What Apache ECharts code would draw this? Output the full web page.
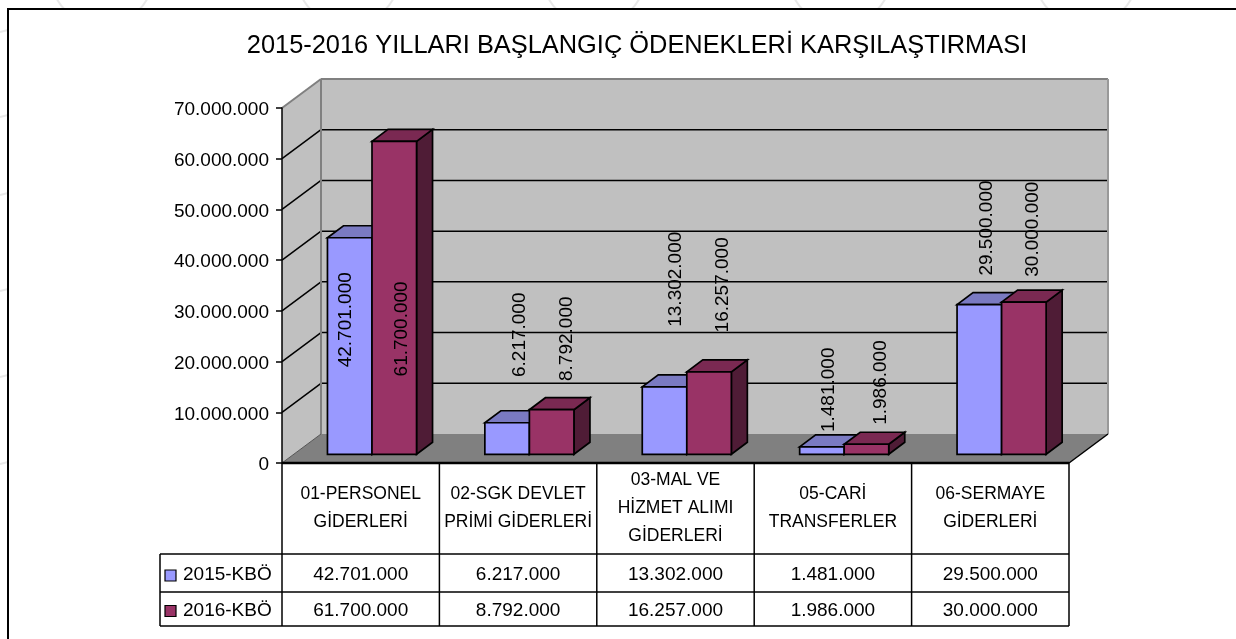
<!DOCTYPE html>
<html lang="tr">
<head>
    <meta charset="UTF-8">
    <title>2015-2016 Yıllari Başlangıç Ödenekleri</title>
    <style>
        *{
            padding:0;
            margin:0;
        }
    </style>
    <script src="https://cdn.jsdelivr.net/npm/echarts@6/dist/echarts.min.js"></script>
</head>
<body>
    <div id="main" style="width: 1236px;height: 639px;"></div>
    <script>
        var categories = ['01-PERSONEL\nGİDERLERİ', '02-SGK DEVLET\nPRİMİ GİDERLERİ', '03-MAL VE\nHİZMET ALIMI\nGİDERLERİ', '05-CARİ\nTRANSFERLER', '06-SERMAYE\nGİDERLERİ'];
        var seriesNames = ['2015-KBÖ', '2016-KBÖ'];
        var values2015 = [42701000, 6217000, 13302000, 1481000, 29500000];
        var values2016 = [61700000, 8792000, 16257000, 1986000, 30000000];
        var gridTicks = [10000000, 20000000, 30000000, 40000000, 50000000, 60000000, 70000000];

        // elle yerlestirilmis etiketler: cubuk tepesine gore kayma (px)
        var nudge2015 = [[-3.5, 82], [12.5, -88], [11, -107.6], [7.3, -57], [7.9, -76.7]];
        var nudge2016 = [[7.5, 187.5], [15.5, -71], [13.2, -87], [14.1, -61.7], [8.4, -73]];

        var FONT = '"Liberation Sans", Arial, sans-serif';
        var COLORS = [
            {front: '#9999ff', top: '#7a7ac2', side: '#5c5c99'},
            {front: '#993366', top: '#7a2952', side: '#4f1c36'}
        ];
        var WALL = [39, -29];       // zemin derinligi
        var BAR_SHIFT = [11.3, -8.7];
        var BAR_DEPTH = [16, -12];
        var TABLE_ROWS = [554, 592, 626];
        var TABLE_TEXT_Y = [575, 610.5];
        var TABLE_LEFT = 160;

        function fmt(v) {
            return String(v).replace(/\B(?=(\d{3})+$)/g, '.');
        }

        function line(x1, y1, x2, y2, color, width) {
            return {
                type: 'line',
                shape: {x1: x1, y1: y1, x2: x2, y2: y2},
                style: {stroke: color, lineWidth: width}
            };
        }

        function poly(points, fill, stroke, width) {
            return {
                type: 'polygon',
                shape: {points: points},
                style: {fill: fill, stroke: stroke, lineWidth: width || 0}
            };
        }

        function label(text, x, y, size, align, rotate) {
            return {
                type: 'text',
                x: x,
                y: y,
                rotation: rotate ? Math.PI / 2 : 0,
                style: {
                    text: text, x: 0, y: 0, fill: '#000', font: size + 'px ' + FONT,
                    textAlign: align || 'center', textVerticalAlign: 'middle'
                }
            };
        }

        function renderWalls(params, api) {
            var c = params.coordSys;
            var l = c.x, r = c.x + c.width, t = c.y, b = c.y + c.height;
            var dx = WALL[0], dy = WALL[1];
            var kids = [
                poly([[l, b], [l + dx, b + dy], [l + dx, t + dy], [l, t]], '#c0c0c0'),
                poly([[l + dx, b + dy], [r + dx, b + dy], [r + dx, t + dy], [l + dx, t + dy]], '#c0c0c0'),
                poly([[l, b], [r, b], [r + dx, b + dy], [l + dx, b + dy]], '#808080')
            ];
            gridTicks.forEach(function (v) {
                var y = api.coord([0, v])[1];
                if (v < 70000000) {
                    kids.push(line(l + dx, y + dy, r + dx, y + dy, '#000', 1.5));
                    kids.push(line(l, y, l + dx, y + dy, '#000', 1.5));
                }
            });
            kids.push(line(l, t, l + dx, t + dy, '#808080', 2));
            kids.push(line(l + dx, t + dy, r + dx, t + dy, '#808080', 2));
            kids.push(line(r + dx, t + dy, r + dx, b + dy, '#999999', 2));
            kids.push(line(l + dx, t + dy, l + dx, b + dy, '#808080', 2));
            kids.push(line(l, b, l + dx, b + dy, '#555555', 1));
            kids.push(line(r, b, r + dx, b + dy, '#000', 1.5));
            return {type: 'group', children: kids};
        }

        function barRenderer(which) {
            return function (params, api) {
                var idx = api.value(0);
                var w = api.size([1, 0])[0] * 0.283;
                var base = api.coord([idx, 0]);
                var top = api.coord([idx, api.value(1)]);
                var x1 = base[0] + BAR_SHIFT[0] + (which === 0 ? -w : 0);
                var x2 = x1 + w;
                var y1 = top[1] + BAR_SHIFT[1];
                var y2 = base[1] + BAR_SHIFT[1];
                var dx = BAR_DEPTH[0], dy = BAR_DEPTH[1];
                var col = COLORS[which];
                return {
                    type: 'group',
                    children: [
                        poly([[x2, y2], [x2 + dx, y2 + dy], [x2 + dx, y1 + dy], [x2, y1]], col.side, '#000', 1.7),
                        poly([[x1, y1], [x2, y1], [x2 + dx, y1 + dy], [x1 + dx, y1 + dy]], col.top, '#000', 1.7),
                        poly([[x1, y1], [x2, y1], [x2, y2], [x1, y2]], col.front, '#000', 1.7)
                    ]
                };
            };
        }

        function labelRenderer(which, nudge) {
            return function (params, api) {
                var idx = api.value(0);
                var w = api.size([1, 0])[0] * 0.283;
                var base = api.coord([idx, 0]);
                var top = api.coord([idx, api.value(1)]);
                var cx = base[0] + BAR_SHIFT[0] + (which === 0 ? -w / 2 : w / 2);
                return label(fmt(api.value(1)), cx + nudge[idx][0], top[1] + BAR_SHIFT[1] + nudge[idx][1], 19, 'center', true);
            };
        }

        function renderTable(params, api) {
            var c = params.coordSys;
            var l = c.x, r = c.x + c.width, b = c.y + c.height;
            var step = c.width / categories.length;
            var kids = [line(l, b, r, b, '#000', 2.5)];
            for (var i = 0; i <= categories.length; i++) {
                kids.push(line(l + i * step, b, l + i * step, TABLE_ROWS[2], '#000', 1.5));
            }
            kids.push(line(TABLE_LEFT, TABLE_ROWS[0], TABLE_LEFT, TABLE_ROWS[2], '#000', 1.5));
            TABLE_ROWS.forEach(function (y) {
                kids.push(line(TABLE_LEFT, y, r, y, '#000', 1.5));
            });
            [values2015, values2016].forEach(function (vals, row) {
                var y = TABLE_TEXT_Y[row];
                kids.push({
                    type: 'rect',
                    shape: {x: 165, y: y - 5, width: 11, height: 11},
                    style: {fill: COLORS[row].front, stroke: '#000', lineWidth: 1.2}
                });
                kids.push(label(seriesNames[row], 183, y, 19, 'left'));
                vals.forEach(function (v, i) {
                    kids.push(label(fmt(v), api.coord([i, 0])[0], y, 19));
                });
            });
            return {type: 'group', children: kids};
        }

        function asPairs(vals) {
            return vals.map(function (v, i) {
                return [i, v];
            });
        }

        var backdrop = [];
        [102, 348, 594, 840, 1086].forEach(function (x) {
            backdrop.push({
                type: 'circle', z: -3, silent: true,
                shape: {cx: x, cy: -25, r: 51},
                style: {fill: 'none', stroke: '#e8e8e8', lineWidth: 2}
            });
        });
        [30, 115, 193, 289, 375, 462].forEach(function (y) {
            backdrop.push({
                type: 'line', z: -3, silent: true,
                shape: {x1: 0, y1: y + 2, x2: 8, y2: y},
                style: {stroke: '#e8e8e8', lineWidth: 2}
            });
        });
        backdrop.push({
            type: 'rect', z: -2, silent: true,
            shape: {x: 8, y: 9, width: 1240, height: 640},
            style: {fill: '#fff', stroke: '#000', lineWidth: 2}
        });

        var myChart = echarts.init(document.getElementById('main'));
        myChart.setOption({
            animation: false,
            backgroundColor: '#fff',
            title: {
                text: '2015-2016 YILLARI BAŞLANGIÇ ÖDENEKLERİ KARŞILAŞTIRMASI',
                left: 632,
                top: 28,
                textAlign: 'center',
                textStyle: {color: '#000', fontFamily: FONT, fontWeight: 'normal', fontSize: 25.4}
            },
            graphic: backdrop,
            grid: {left: 282, top: 108, width: 787, height: 355},
            xAxis: {
                type: 'category',
                data: categories,
                axisLine: {show: false},
                axisTick: {show: false},
                axisLabel: {
                    interval: 0, margin: 45, color: '#000', fontFamily: FONT, fontSize: 17.5,
                    lineHeight: 28, verticalAlign: 'middle'
                }
            },
            yAxis: {
                type: 'value',
                min: 0,
                max: 70000000,
                interval: 10000000,
                z: 4,
                splitLine: {show: false},
                axisLine: {show: true, lineStyle: {color: '#000', width: 1.5}},
                axisTick: {show: true, length: 6, lineStyle: {color: '#000', width: 1.5}},
                axisLabel: {margin: 13, color: '#000', fontFamily: FONT, fontSize: 19, verticalAlign: 'top', lineHeight: 4, formatter: fmt}
            },
            series: [
                {type: 'custom', name: 'duvar', data: [[0, 0]], renderItem: renderWalls, silent: true, clip: false, z: 1},
                {type: 'custom', name: seriesNames[0], data: asPairs(values2015), renderItem: barRenderer(0), clip: false, z: 2},
                {type: 'custom', name: seriesNames[1], data: asPairs(values2016), renderItem: barRenderer(1), clip: false, z: 2},
                {type: 'custom', name: 'tablo', data: [[0, 0]], renderItem: renderTable, silent: true, clip: false, z: 3},
                {type: 'custom', name: 'etiket15', data: asPairs(values2015), renderItem: labelRenderer(0, nudge2015), silent: true, clip: false, z: 5},
                {type: 'custom', name: 'etiket16', data: asPairs(values2016), renderItem: labelRenderer(1, nudge2016), silent: true, clip: false, z: 5}
            ]
        });
    </script>
</body>
</html>
